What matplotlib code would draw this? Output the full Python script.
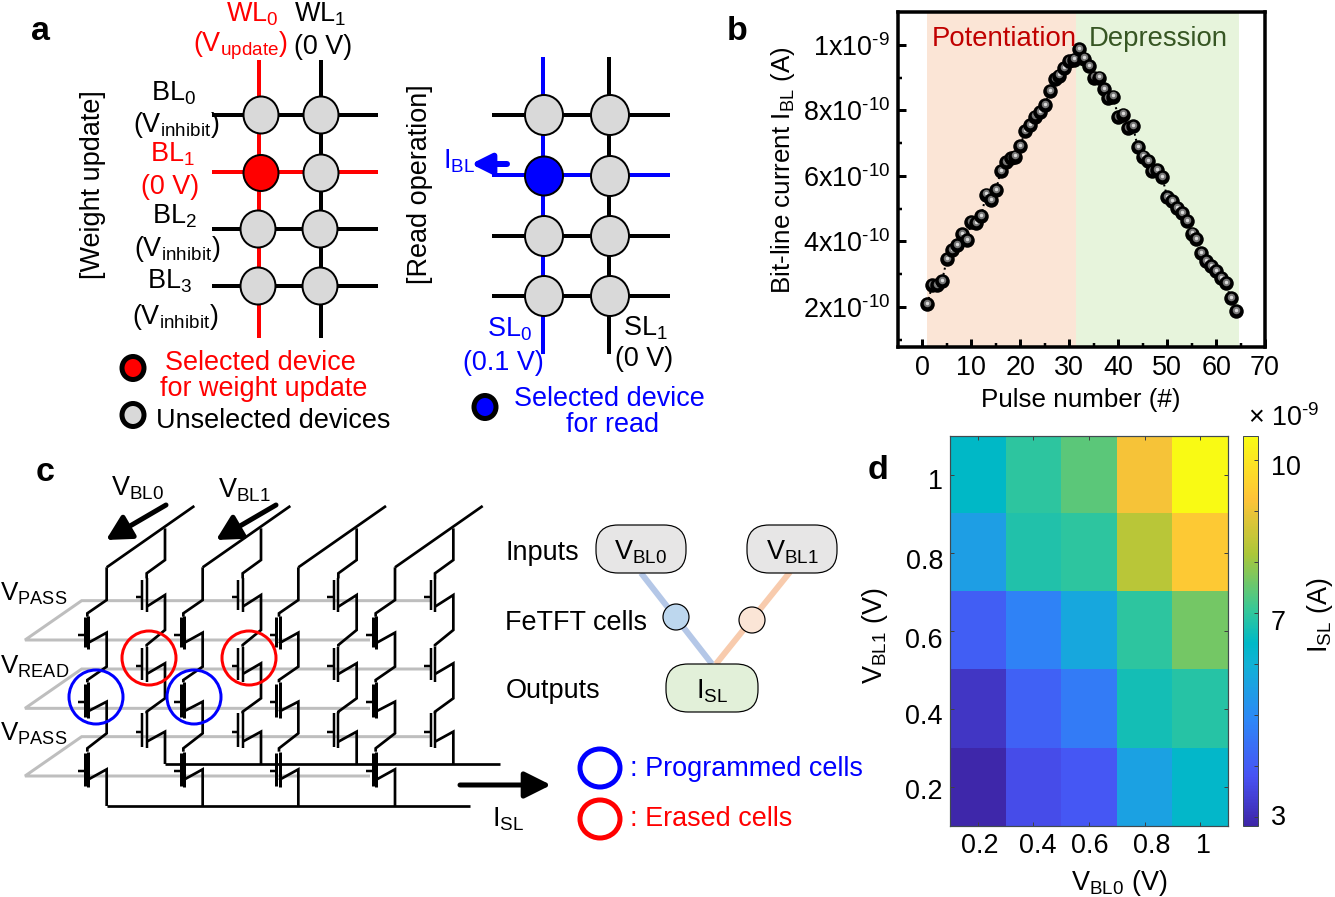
import matplotlib
matplotlib.use("Agg")
import matplotlib.pyplot as plt
import matplotlib.transforms as mtrans
import numpy as np
from matplotlib.colors import LinearSegmentedColormap
from matplotlib.patches import Ellipse, FancyBboxPatch

plt.rcParams['font.family'] = ['Liberation Sans', 'DejaVu Sans']
plt.rcParams['mathtext.fontset'] = 'custom'
plt.rcParams['mathtext.rm'] = 'Liberation Sans'
plt.rcParams['mathtext.it'] = 'Liberation Sans:italic'
plt.rcParams['mathtext.bf'] = 'Liberation Sans:bold'
plt.rcParams['mathtext.default'] = 'regular'

WIDTH, HEIGHT = 1335, 897

# panel b, pulse number and current in units of 1e-10 A
pulses = list(range(1, 65))
current = [2.09, 2.67, 2.67, 2.80, 3.47, 3.73, 3.89, 4.22, 4.04, 4.59, 4.56, 4.78, 5.43, 5.25, 5.56, 6.14,
           6.42, 6.55, 6.59, 6.91, 7.38, 7.56, 7.81, 7.96, 8.16, 8.58, 8.95, 9.06, 9.29, 9.51, 9.55, 9.86,
           9.58, 9.36, 9.00, 9.00, 8.65, 8.38, 8.42, 7.79, 7.87, 7.47, 7.51, 6.88, 6.59, 6.44, 6.15, 6.19,
           5.97, 5.35, 5.22, 5.02, 4.87, 4.61, 4.24, 4.08, 3.65, 3.41, 3.25, 3.09, 2.89, 2.72, 2.27, 1.88]
b_xticks = [0, 10, 20, 30, 40, 50, 60, 70]
b_yticks = [2, 4, 6, 8, 10]
b_ylabels = ['2x10$^{\u201010}$', '4x10$^{\u201010}$', '6x10$^{\u201010}$', '8x10$^{\u201010}$', '1x10$^{\u20109}$']

# panel d, current in units of 1e-9 A, first row is V_BL1 = 1
vbl_ticks = [0.2, 0.4, 0.6, 0.8, 1]
vbl_labels = ['0.2', '0.4', '0.6', '0.8', '1']
isl_row_10 = [6.42, 6.96, 7.42, 9.15, 10.48]
isl_row_08 = [5.50, 6.80, 6.96, 8.34, 9.40]
isl_row_06 = [4.05, 4.80, 5.73, 6.96, 7.65]
isl_row_04 = [3.20, 4.12, 4.66, 6.65, 6.88]
isl_row_02 = [2.85, 3.66, 3.90, 5.58, 6.35]
cbar_ticks = [3, 4, 5, 6, 7, 8, 9, 10]
cbar_labels = ['3', '', '', '', '7', '', '', '10']

parula = LinearSegmentedColormap.from_list('parula', [
    (0.0, (0.2422, 0.1504, 0.6603)), (0.127, (0.2810, 0.3228, 0.9579)),
    (0.27, (0.1786, 0.5289, 0.9682)), (0.413, (0.0689, 0.6948, 0.8394)),
    (0.47, (0.0, 0.725, 0.78)), (0.556, (0.2161, 0.7843, 0.5923)),
    (0.698, (0.6720, 0.7793, 0.2227)), (0.841, (0.9970, 0.7659, 0.2199)),
    (1.0, (0.9769, 0.9839, 0.0805))])


def px(v):
    # pixels to points at dpi 100
    return v * 0.72


def pixel_axes(fig, left, top, right, bottom):
    return fig.add_axes([left / WIDTH, 1 - bottom / HEIGHT, (right - left) / WIDTH, (bottom - top) / HEIGHT])


def label(ax, x, y, s, color='black', size=27, **kw):
    # matplotlib centres on the full text box, the glyphs sit a little high or left of it
    if kw.get('rotation') == 90:
        x += 2
    else:
        y += 1.5
    ax.text(x, y, s, color=color, fontsize=px(size), ha=kw.pop('ha', 'center'), va=kw.pop('va', 'center'), **kw)


def line(ax, xs, ys, color='black', width=4, **kw):
    ax.plot(xs, ys, color=color, lw=px(width), solid_capstyle='butt', solid_joinstyle='miter', **kw)


def dot(ax, x, y, rx, ry, face, edge_w=2):
    ax.add_patch(Ellipse((x, y), 2 * rx, 2 * ry, facecolor=face, edgecolor='black', lw=px(edge_w), zorder=5))


def arrow(ax, start, end, color='black', width=5, head_w=0.8, head_l=1.5):
    ax.annotate('', xy=end, xytext=start,
                arrowprops=dict(arrowstyle=f'-|>,head_width={head_w},head_length={head_l}', color=color,
                                lw=px(width), shrinkA=0, shrinkB=0))


def shift_labels(labels, offsets, fig):
    # hand placed tick labels in the reference, offsets in pixels
    for t, (dx, dy) in zip(labels, offsets):
        t.set_transform(t.get_transform() + mtrans.ScaledTranslation(dx / 100, -dy / 100, fig.dpi_scale_trans))


def draw_panel_a(ax):
    gray = '#D9D9D9'
    label(ax, 40, 30, 'a', size=34, fontweight='bold')

    # weight update grid
    line(ax, [259, 259], [60, 338], 'red')
    line(ax, [321, 321], [60, 338])
    for y, c in zip([115, 172, 229, 286], ['black', 'red', 'black', 'black']):
        line(ax, [212, 378], [y, y], c)
    for x, y in [(261, 115), (321, 115), (321, 173), (258, 229), (320, 229), (258, 286), (320, 286)]:
        dot(ax, x, y, 17.5, 18.5, gray)
    dot(ax, 261, 173, 17.5, 18, 'red')

    label(ax, 252, 13, 'WL$_0$', 'red')
    label(ax, 320, 13, 'WL$_1$')
    label(ax, 241, 44, '(V$_{update}$)', 'red')
    label(ax, 323, 46, '(0 V)')
    label(ax, 174, 92, 'BL$_0$')
    label(ax, 176, 123, '(V$_{inhibit}$)')
    label(ax, 172, 153, 'BL$_1$', 'red')
    label(ax, 170, 186, '(0 V)', 'red')
    label(ax, 174, 215, 'BL$_2$')
    label(ax, 177, 248, '(V$_{inhibit}$)')
    label(ax, 170, 280, 'BL$_3$')
    label(ax, 175, 315, '(V$_{inhibit}$)')
    label(ax, 91, 185, '[Weight update]', size=27, rotation=90)

    # read grid
    line(ax, [543, 543], [57, 354], '#0000FF')
    line(ax, [609, 609], [57, 354])
    for y, c in zip([115, 175, 236, 296], ['black', '#0000FF', 'black', 'black']):
        line(ax, [492, 670], [y, y], c)
    for x, y in [(544, 115), (610, 115), (610, 176), (544, 236), (610, 236), (544, 296), (610, 296)]:
        dot(ax, x, y, 19, 20, gray)
    dot(ax, 544, 176, 19, 19.5, '#0000FF')

    label(ax, 418, 184, '[Read operation]', size=27, rotation=90)
    label(ax, 459, 160, 'I$_{BL}$', '#0000FF')
    arrow(ax, (507, 164), (471, 164), '#0000FF', 6, 0.6, 1.2)
    label(ax, 510, 328, 'SL$_0$', '#0000FF')
    label(ax, 503, 362, '(0.1 V)', '#0000FF')
    label(ax, 645, 327, 'SL$_1$')
    label(ax, 644, 358, '(0 V)')

    # little legends
    dot(ax, 133, 368, 11, 11.5, 'red', 5)
    dot(ax, 133, 415, 11, 11.5, gray, 5)
    dot(ax, 485, 407, 11, 11.5, '#0000FF', 5)
    label(ax, 260, 361, 'Selected device', 'red')
    label(ax, 264, 387, 'for weight update', 'red')
    label(ax, 273, 420, 'Unselected devices')
    label(ax, 609, 398, 'Selected device', '#0000FF')
    label(ax, 613, 424, 'for read', '#0000FF')


def cp(points, dx=0):
    # panel c was measured on a 3x crop starting at y = 450
    return [(x + dx) / 3 for x, y in points], [450 + y / 3 for x, y in points]


def cell(ax, channel_x, gate_x, top, bottom, stub_y, dx, width=2.5):
    xs, ys = cp([(channel_x, top), (channel_x, bottom)], dx)
    line(ax, xs, ys, width=width)
    xs, ys = cp([(gate_x, top + 5), (gate_x, bottom - 5)], dx)
    line(ax, xs, ys, width=width)
    xs, ys = cp([(gate_x - 20, stub_y), (gate_x, stub_y)], dx)
    line(ax, xs, ys, width=2.5)


def draw_panel_c(ax):
    label(ax, 45, 471, 'c', size=34, fontweight='bold')

    # gate planes
    for off in [0, 205, 408]:
        xs, ys = cp([(1290, 452 + off), (245, 452 + off), (75, 570 + off), (1110, 570 + off)])
        line(ax, xs, ys, '#BEBEBE', 3)

    back = [(495, 235), (495, 330), (440, 370), (440, 385)], \
           [(440, 470), (495, 435), (495, 540), (440, 585), (440, 590)], \
           [(440, 672), (495, 640), (495, 745), (440, 785), (440, 790)], \
           [(440, 875), (495, 845), (495, 942)]
    front = [(320, 352), (320, 450), (262, 490), (262, 500)], \
            [(262, 580), (320, 548), (320, 650), (262, 690), (262, 697)], \
            [(262, 785), (320, 755), (320, 850), (262, 895), (262, 905)], \
            [(262, 990), (320, 958), (320, 1068)]
    for dx in [0, 288, 575, 865]:
        xs, ys = cp([(320, 352), (583, 168)], dx)
        line(ax, xs, ys, width=2.7)
        for seg in back + front:
            xs, ys = cp(seg, dx)
            line(ax, xs, ys, width=2.7)
        for top, bot in [(385, 485), (590, 695), (785, 895)]:
            cell(ax, 440, 427, top, bot, (top + bot) / 2 + 5, dx)
        for top, bot in [(497, 597), (697, 805), (905, 1012)]:
            cell(ax, 264, 254, top, bot, top + 58, dx, 3)

    xs, ys = cp([(495, 942), (1500, 942)])
    line(ax, xs, ys, width=2.7)
    xs, ys = cp([(320, 1068), (1410, 1068)])
    line(ax, xs, ys, width=2.7)

    for x, y, c in [(149, 658, 'red'), (249, 658, 'red'), (96, 697, '#0000FF'), (194, 697, '#0000FF')]:
        ax.add_patch(Ellipse((x, y), 54, 54, fill=False, edgecolor=c, lw=px(3), zorder=6))

    arrow(ax, (166, 505), (106, 540))
    arrow(ax, (276, 505), (216, 540))
    arrow(ax, (460, 785), (551, 785), head_l=1.6)

    label(ax, 34, 592, 'V$_{PASS}$', size=26)
    label(ax, 35, 665, 'V$_{READ}$', size=26)
    label(ax, 34, 732, 'V$_{PASS}$', size=26)
    label(ax, 138, 487, 'V$_{BL0}$')
    label(ax, 244, 489, 'V$_{BL1}$')
    label(ax, 508, 818, 'I$_{SL}$')

    # mapping sketch
    line(ax, [641, 712], [573, 664], '#B4C7E7', 6)
    line(ax, [790, 716], [572, 664], '#F8CBAD', 6)
    for cx, cy, w, face, text in [(641, 549, 90, '#E7E6E6', 'V$_{BL0}$'), (792, 549, 90, '#E7E6E6', 'V$_{BL1}$'),
                                  (712, 688, 92, '#E2F0D9', 'I$_{SL}$')]:
        ax.add_patch(FancyBboxPatch((cx - w / 2 + 22, cy - 2), w - 44, 4, boxstyle='round,pad=22,rounding_size=22',
                                    facecolor=face, edgecolor='black', lw=px(1.2), zorder=3))
        label(ax, cx, cy + 2, text, zorder=4)
    dot(ax, 676, 617, 13, 13, '#BDD7EE', 1.2)
    dot(ax, 752, 620, 13, 13, '#FBE5D6', 1.2)
    label(ax, 542, 551, 'Inputs')
    label(ax, 576, 622, 'FeTFT cells')
    label(ax, 553, 690, 'Outputs')

    ax.add_patch(Ellipse((600, 768), 40, 38, fill=False, edgecolor='#0000FF', lw=px(5)))
    ax.add_patch(Ellipse((600, 819), 40, 38, fill=False, edgecolor='red', lw=px(5)))
    label(ax, 746, 767, ': Programmed cells', '#0000FF')
    label(ax, 711, 818, ': Erased cells', 'red')


def draw_panel_b(fig, bg):
    label(bg, 737, 30, 'b', size=34, fontweight='bold')
    ax = pixel_axes(fig, 898, 12, 1265, 347)
    ax.set_xlim(-5, 70)
    ax.set_ylim(0.78, 11)
    ax.axvspan(0.9, 31.4, color='#FBE5D6', lw=0, zorder=0)
    ax.axvspan(31.4, 64.7, color='#E7F4DC', lw=0, zorder=0)
    ax.plot(pulses, current, color='black', lw=px(2), ls=':', zorder=1)

    mid = mtrans.offset_copy(ax.transData, fig=fig, x=0, y=0.8, units='points')
    for x, y in zip(pulses, current):
        ax.plot([x], [y], 'o', color='black', ms=px(14.5), mew=0, zorder=2)
        ax.plot([x], [y], 'o', color='#767676', ms=px(7.5), mew=0, zorder=2, transform=mid)
        ax.plot([x], [y], 'o', color='#DADADA', ms=px(3.5), mew=0, zorder=2, transform=mid)

    ax.set_xticks(b_xticks)
    ax.set_xticks(np.arange(5, 70, 10), minor=True)
    ax.set_yticks(b_yticks)
    ax.set_yticklabels(b_ylabels)
    ax.set_yticks([1, 3, 5, 7, 9], minor=True)
    ax.tick_params(which='major', direction='in', length=px(8), width=px(3), labelsize=px(27), pad=px(8))
    ax.tick_params(which='minor', direction='in', length=px(4), width=px(2.5))
    for spine in ax.spines.values():
        spine.set_linewidth(px(3.5))

    # the region names sit over the shading, so they belong to this axes
    label(ax, 1004, 37, 'Potentiation', '#C00000', 27.5, transform=bg.transData, zorder=3)
    label(ax, 1158, 37, 'Depression', '#375623', 27.5, transform=bg.transData, zorder=3)
    label(bg, 1081, 399, 'Pulse number (#)', size=26)
    label(bg, 781, 170, 'Bit-line current I$_{BL}$ (A)', size=26, rotation=90)


def draw_panel_d(fig, bg):
    label(bg, 878, 469, 'd', size=34, fontweight='bold')
    ax = pixel_axes(fig, 950, 436, 1228, 826)
    grid = np.array([isl_row_10, isl_row_08, isl_row_06, isl_row_04, isl_row_02])
    im = ax.imshow(grid, cmap=parula, vmin=2.82, vmax=10.48, extent=(0.1, 1.1, 0.1, 1.1), aspect='auto',
                   interpolation='nearest')
    ax.set_xticks(vbl_ticks)
    ax.set_xticklabels(vbl_labels)
    ax.set_yticks(vbl_ticks)
    ax.set_yticklabels(vbl_labels)
    ax.tick_params(direction='in', length=px(4), width=px(1), color='#404040', top=True, right=True,
                   labelsize=px(27), pad=px(7))
    for spine in ax.spines.values():
        spine.set_linewidth(px(1.2))
        spine.set_color('#404A50')
    shift_labels(ax.get_xticklabels(), [(2, 0), (4, 0), (1, 0), (7, 0), (3, 0)], fig)
    shift_labels(ax.get_yticklabels(), [(0, 2), (0, 5), (0, 7), (0, 6), (0, 4)], fig)

    cax = pixel_axes(fig, 1243, 436, 1258, 826)
    cbar = fig.colorbar(im, cax=cax, ticks=cbar_ticks)
    cbar.ax.set_yticklabels(cbar_labels)
    cbar.ax.tick_params(direction='in', length=px(4), width=px(1), color='#404040', labelsize=px(27), pad=px(13))
    cbar.outline.set_linewidth(px(1))
    cbar.outline.set_edgecolor('#404A50')
    shift_labels(cbar.ax.get_yticklabels(), [(0, -2), (0, 0), (0, 0), (0, 0), (0, 7), (0, 0), (0, 0), (0, 5)], fig)

    label(bg, 873, 636, 'V$_{BL1}$ (V)', rotation=90)
    label(bg, 1119, 881, 'V$_{BL0}$ (V)')
    label(bg, 1284, 417, '× 10$^{\u20109}$')
    label(bg, 1318, 615, 'I$_{SL}$ (A)', rotation=90)


def main():
    fig = plt.figure(figsize=(WIDTH / 100, HEIGHT / 100), dpi=100)
    bg = fig.add_axes([0, 0, 1, 1])
    bg.set_xlim(0, WIDTH)
    bg.set_ylim(HEIGHT, 0)
    bg.axis('off')

    draw_panel_a(bg)
    draw_panel_c(bg)
    draw_panel_b(fig, bg)
    draw_panel_d(fig, bg)

    plt.savefig('out.png', dpi=100)


if __name__ == "__main__":
    main()
